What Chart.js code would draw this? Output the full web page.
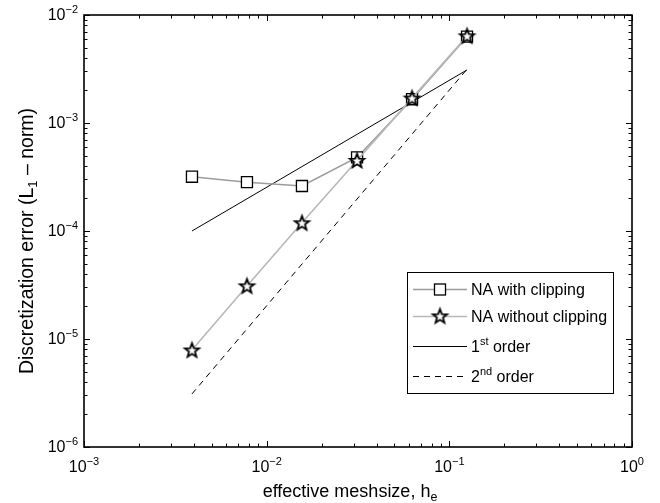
<!DOCTYPE html>
<html>
<head>
<meta charset="utf-8">
<script src="https://cdn.jsdelivr.net/npm/chart.js@4.4.1/dist/chart.umd.min.js"></script>
<style>
  html, body { margin: 0; padding: 0; background: #fff; }
  #wrap { width: 660px; height: 503px; position: relative; }
</style>
</head>
<body>
<div id="wrap"><canvas id="errChart" width="660" height="503"></canvas></div>
<script>
// effective meshsize h_e (x) and L1 discretization error (y)
const meshSizes = [0.0039, 0.0078, 0.0156, 0.03125, 0.0625, 0.125];
const withClipping = [3.18e-4, 2.83e-4, 2.61e-4, 4.8e-4, 1.66e-3, 6.3e-3];
const withoutClipping = [7.9e-6, 3.1e-5, 1.19e-4, 4.5e-4, 1.7e-3, 6.4e-3];
const refSizes = [0.0039, 0.125];
const firstOrder = [1.0e-4, 3.1e-3];
const secondOrder = [3.1e-6, 3.15e-3];
const xDecades = [1e-3, 1e-2, 1e-1, 1e0];
const yDecades = [1e-6, 1e-5, 1e-4, 1e-3, 1e-2];
const xTickLabels = ['\u22123', '\u22122', '\u22121', '0'];
const yTickLabels = ['\u22126', '\u22125', '\u22124', '\u22123', '\u22122'];
const legendLabels = ['NA with clipping', 'NA without clipping', '1st order', '2nd order'];

const FONT = '"Liberation Sans", Arial, Helvetica, sans-serif';

function toPoints(xs, ys) {
    return xs.map((x, i) => ({ x: x, y: ys[i] }));
}

// MATLAB-like pentagram marker
function makeStar(r, lw) {
    const s = Math.ceil(2 * r + 2 * lw + 2);
    const c = document.createElement('canvas');
    c.width = s; c.height = s;
    const g = c.getContext('2d');
    const cx = s / 2, cy = s / 2 + 0.6;
    const ri = r * 0.42;
    g.beginPath();
    for (let k = 0; k < 10; k++) {
        const rad = k % 2 === 0 ? r : ri;
        const a = -Math.PI / 2 + k * Math.PI / 5;
        const px = cx + rad * Math.cos(a), py = cy + rad * Math.sin(a);
        if (k === 0) g.moveTo(px, py); else g.lineTo(px, py);
    }
    g.closePath();
    g.fillStyle = '#fff';
    g.fill();
    g.lineWidth = lw;
    g.lineJoin = 'miter';
    g.strokeStyle = '#000';
    g.stroke();
    return c;
}
const starImg = makeStar(7.5, 1.8);

function drawSup(ctx, parts, x, y, align) {
    // parts: [text, size, dy]
    let w = 0;
    parts.forEach(p => { ctx.font = p[1] + 'px ' + FONT; w += ctx.measureText(p[0]).width; });
    let cx = align === 'center' ? x - w / 2 : align === 'right' ? x - w : x;
    ctx.textAlign = 'left';
    ctx.textBaseline = 'alphabetic';
    parts.forEach(p => {
        ctx.font = p[1] + 'px ' + FONT;
        ctx.fillText(p[0], cx, y + p[2]);
        cx += ctx.measureText(p[0]).width;
    });
}

const axesPlugin = {
    id: 'axesPlugin',
    afterDraw(chart) {
        const { ctx, chartArea: a, scales: { x, y } } = chart;
        ctx.save();
        ctx.strokeStyle = '#000';
        ctx.fillStyle = '#000';

        // ticks (inside, all four sides)
        ctx.lineWidth = 1;
        ctx.beginPath();
        xDecades.forEach((d, i) => {
            for (let m = 1; m <= 9; m++) {
                const v = d * m;
                if (v > 1 || (i === xDecades.length - 1 && m > 1)) continue;
                const px = Math.round(x.getPixelForValue(v)) + 0.5;
                const len = m === 1 ? 6 : 3.5;
                ctx.moveTo(px, a.bottom); ctx.lineTo(px, a.bottom - len);
                ctx.moveTo(px, a.top); ctx.lineTo(px, a.top + len);
            }
        });
        yDecades.forEach((d, i) => {
            for (let m = 1; m <= 9; m++) {
                const v = d * m;
                if (i === yDecades.length - 1 && m > 1) continue;
                const py = Math.round(y.getPixelForValue(v)) + 0.5;
                const len = m === 1 ? 6 : 3.5;
                ctx.moveTo(a.left, py); ctx.lineTo(a.left + len, py);
                ctx.moveTo(a.right, py); ctx.lineTo(a.right - len, py);
            }
        });
        ctx.stroke();

        // box
        ctx.lineWidth = 1.6;
        ctx.strokeRect(a.left, a.top, a.right - a.left, a.bottom - a.top);

        // tick labels
        xDecades.forEach((d, i) => {
            const px = x.getPixelForValue(d);
            drawSup(ctx, [['10', 16, 0], [xTickLabels[i], 11, -7]], px, a.bottom + 25, 'center');
        });
        yDecades.forEach((d, i) => {
            const py = y.getPixelForValue(d);
            drawSup(ctx, [['10', 16, 0], [yTickLabels[i], 11, -7]], a.left - 6, py + 5, 'right');
        });

        // axis titles
        drawSup(ctx, [['effective meshsize, h', 18, 0], ['e', 12.5, 4]], 350, 497, 'center');
        ctx.save();
        ctx.translate(33, 241);
        ctx.rotate(-Math.PI / 2);
        drawSup(ctx, [['Discretization error (L', 19.5, 0], ['1', 13, 4], [' \u2013 norm)', 19.5, 0]], 0, 0, 'center');
        ctx.restore();

        // legend
        const lx = 407, ly = 272, lw = 206, lh = 121;
        ctx.fillStyle = '#fff';
        ctx.fillRect(lx, ly, lw, lh);
        ctx.lineWidth = 1;
        ctx.strokeStyle = '#000';
        ctx.strokeRect(lx + 0.5, ly + 0.5, lw, lh);
        const rows = [289, 316, 346, 376];
        const x0 = lx + 6, x1 = lx + 60, tx = lx + 64;
        const ds = chart.data.datasets;
        rows.forEach((ry, i) => {
            const d = ds.find(s => s.label === legendLabels[i]);
            ctx.save();
            ctx.strokeStyle = d.borderColor;
            ctx.lineWidth = d.borderWidth;
            ctx.setLineDash(d.borderDash || []);
            ctx.beginPath();
            ctx.moveTo(x0, ry + 0.5); ctx.lineTo(x1, ry + 0.5);
            ctx.stroke();
            ctx.restore();
            const mx = (x0 + x1) / 2;
            if (i === 0) {
                ctx.fillStyle = '#fff';
                ctx.fillRect(mx - 5.5, ry - 5, 11, 11);
                ctx.lineWidth = 1.3;
                ctx.strokeRect(mx - 5.5, ry - 5, 11, 11);
            } else if (i === 1) {
                ctx.drawImage(starImg, mx - starImg.width / 2, ry - starImg.height / 2);
            }
            ctx.fillStyle = '#000';
            if (i < 2) {
                drawSup(ctx, [[legendLabels[i], 16, 0]], tx, ry + 6, 'left');
            } else {
                const sup = i === 2 ? 'st' : 'nd';
                drawSup(ctx, [[legendLabels[i][0], 16, 0], [sup, 11, -7], [legendLabels[i].slice(3), 16, 0]], tx, ry + 6, 'left');
            }
        });
        ctx.restore();
    }
};

const chart = new Chart(document.getElementById('errChart').getContext('2d'), {
    type: 'line',
    data: {
        datasets: [
            {
                label: 'NA without clipping',
                data: toPoints(meshSizes, withoutClipping),
                borderColor: '#b8b8b8',
                borderWidth: 1.6,
                pointStyle: starImg,
                pointRadius: 8,
                order: 0
            },
            {
                label: 'NA with clipping',
                data: toPoints(meshSizes, withClipping),
                borderColor: '#9c9c9c',
                borderWidth: 1.6,
                pointStyle: 'rect',
                pointRadius: 7.8,
                pointBorderColor: '#000',
                pointBorderWidth: 1.3,
                pointBackgroundColor: '#fff',
                order: 1
            },
            {
                label: '1st order',
                data: toPoints(refSizes, firstOrder),
                borderColor: '#000',
                borderWidth: 1,
                pointRadius: 0,
                order: 2
            },
            {
                label: '2nd order',
                data: toPoints(refSizes, secondOrder),
                borderColor: '#000',
                borderWidth: 1,
                borderDash: [6, 5],
                pointRadius: 0,
                order: 3
            }
        ]
    },
    options: {
        responsive: false,
        animation: false,
        layout: { padding: { left: 84, top: 15, right: 28, bottom: 56 } },
        elements: { line: { tension: 0 } },
        scales: {
            x: { type: 'logarithmic', min: 1e-3, max: 1, display: false },
            y: { type: 'logarithmic', min: 1e-6, max: 1e-2, display: false }
        },
        plugins: {
            legend: { display: false },
            tooltip: { enabled: false }
        }
    },
    plugins: [axesPlugin]
});
</script>
</body>
</html>
